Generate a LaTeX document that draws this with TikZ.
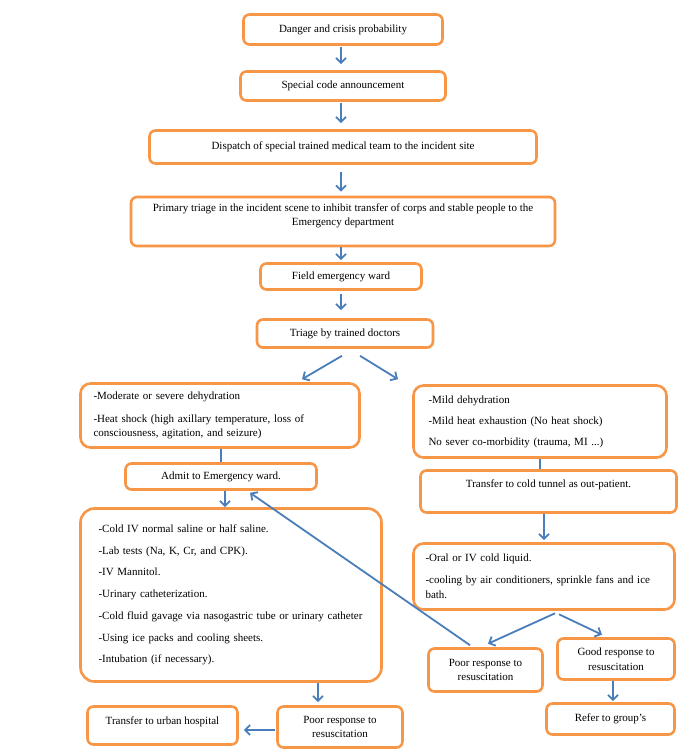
\documentclass[tikz,border=0pt]{standalone}
\usepackage{fontspec}
\setmainfont{Liberation Serif}
\usepackage{xcolor}
\usepackage{tikz}
\usetikzlibrary{shapes.geometric, arrows.meta, positioning}
\definecolor{boxorange}{HTML}{F79646}
\definecolor{arrowblue}{HTML}{4A7EBB}
\tikzstyle{stepbox} = [rectangle, rounded corners=6pt, draw=boxorange, line width=2.6pt, fill=white, text centered, inner sep=0pt, font=\fontsize{11}{14.5}\selectfont]
\tikzstyle{listbox} = [stepbox, rounded corners=10pt, align=left]
\tikzstyle{arrow}   = [line width=1.8pt, draw=arrowblue, -{Straight Barb[length=5pt,width=10pt]}]
\tikzstyle{link}    = [line width=1.8pt, draw=arrowblue]
\tikzset{every node/.style={align=center}}

\begin{document}
\begin{tikzpicture}[x=1pt, y=-1pt]
    \useasboundingbox (0,0) rectangle (699,751);

    % central column
    \node (danger)   [stepbox, minimum width=199pt, minimum height=30pt] at (343,29.5) {Danger and crisis probability};
    \node (special)  [stepbox, minimum width=205pt, minimum height=29pt] at (343,86) {Special code announcement};
    \node (dispatch) [stepbox, minimum width=387pt, minimum height=33pt] at (343,147) {Dispatch of special trained medical team to the incident site};
    \node (primary)  [stepbox, minimum width=424pt, minimum height=49pt, text depth=14pt] at (343,221.5) {Primary triage in the incident scene to inhibit transfer of corps and stable people to the\\Emergency department};
    \node (field)    [stepbox, minimum width=161pt, minimum height=26pt] at (341,276.5) {Field emergency ward};
    \node (triage)   [stepbox, minimum width=176pt, minimum height=28pt] at (345,333.5) {Triage by trained doctors};

    % left branch
    \node (critl) [listbox, minimum width=279pt, minimum height=64pt, text width=253pt] at (220,415.5) {-Moderate or severe dehydration\\[8pt]-Heat shock (high axillary temperature, loss of\\consciousness, agitation, and seizure)};
    \node (admit) [stepbox, minimum width=191pt, minimum height=26pt] at (221,476.5) {Admit to Emergency ward.};
    \node (treat) [listbox, rounded corners=14pt, minimum width=301pt, minimum height=173pt, text width=265pt] at (231,595) {-Cold IV normal saline or half saline.\\[7.2pt]-Lab tests (Na, K, Cr, and CPK).\\[7.2pt]-IV Mannitol.\\[7.2pt]-Urinary catheterization.\\[7.2pt]-Cold fluid gavage via nasogastric tube or urinary catheter\\[7.2pt]-Using ice packs and cooling sheets.\\[7.2pt]-Intubation (if necessary).};
    \node (poorb) [stepbox, minimum width=125pt, minimum height=41pt] at (340,727) {Poor response to\\resuscitation};
    \node (urban) [stepbox, minimum width=150pt, minimum height=38pt, text depth=9.5pt] at (162.5,725.5) {Transfer to urban hospital};

    % right branch
    \node (critr) [listbox, minimum width=253pt, minimum height=72pt, text width=223pt] at (540,421.5) {-Mild dehydration\\[6.5pt]-Mild heat exhaustion (No heat shock)\\[6.5pt]No sever co-morbidity (trauma, MI ...)};
    \node (cold)  [stepbox, minimum width=256pt, minimum height=42pt, text depth=15.5pt] at (548.5,491.5) {Transfer to cold tunnel as out-patient.};
    \node (oral)  [listbox, minimum width=261pt, minimum height=66pt, text width=237pt] at (544,576.5) {-Oral or IV cold liquid.\\[7.5pt]-cooling by air conditioners, sprinkle fans and ice\\bath.};
    \node (poorr) [stepbox, minimum width=114pt, minimum height=43pt] at (485.5,670) {Poor response to\\resuscitation};
    \node (good)  [stepbox, minimum width=117pt, minimum height=41pt] at (616,659) {Good response to\\resuscitation};
    \node (refer) [stepbox, minimum width=128pt, minimum height=31pt] at (610.5,719) {Refer to group's};

    % connectors
    \draw [arrow, shorten <=1.5pt, shorten >=6pt] (danger.south -| 341,0) -- (special.north -| 341,0);
    \draw [arrow, shorten <=1.5pt, shorten >=6pt] (special.south -| 341,0) -- (dispatch.north -| 341,0);
    \draw [arrow, shorten <=7pt, shorten >=4pt] (dispatch.south -| 341,0) -- (primary.north -| 341,0);
    \draw [arrow, shorten <=0pt, shorten >=2pt] (primary.south -| 341,0) -- (field.north -| 341,0);
    \draw [arrow, shorten <=3pt, shorten >=8pt] (field.south -| 341,0) -- (triage.north -| 341,0);
    \draw [arrow] ([xshift=-3pt,yshift=-7pt]triage.south) -- ([xshift=82pt,yshift=3pt]critl.north);
    \draw [arrow] ([xshift=15pt,yshift=-7pt]triage.south) -- ([xshift=-142pt,yshift=5pt]critr.north);
    \draw [link]  (admit.north |- critl.south) -- (admit.north);
    \draw [arrow] ([xshift=4pt]admit.south) -- ([xshift=4pt]admit.south |- treat.north);
    \draw [arrow] ([xshift=-15.5pt,yshift=2pt]poorr.north) -- ([xshift=29pt,yshift=-2pt]admit.south);
    \draw [link]  (critr.south) -- (critr.south |- cold.north);
    \draw [arrow, shorten >=2pt] (oral.north |- cold.south) -- (oral.north);
    \draw [arrow] ([xshift=11pt,yshift=-2.5pt]oral.south) -- ([xshift=2.5pt,yshift=3.5pt]poorr.north);
    \draw [arrow] ([xshift=15pt,yshift=-3.5pt]oral.south) -- ([xshift=-14pt,yshift=2.5pt]good.north);
    \draw [arrow, shorten >=1pt] ([xshift=-3pt]good.south) -- ([xshift=-3pt]good.south |- refer.north);
    \draw [arrow, shorten >=3pt] ([xshift=-22pt]poorb.north |- treat.south) -- ([xshift=-22pt]poorb.north);
    \draw [arrow, shorten <=1pt, shorten >=5pt] ([yshift=-3pt]poorb.west) -- ([yshift=-3pt]poorb.west -| urban.east);
\end{tikzpicture}
\end{document}
